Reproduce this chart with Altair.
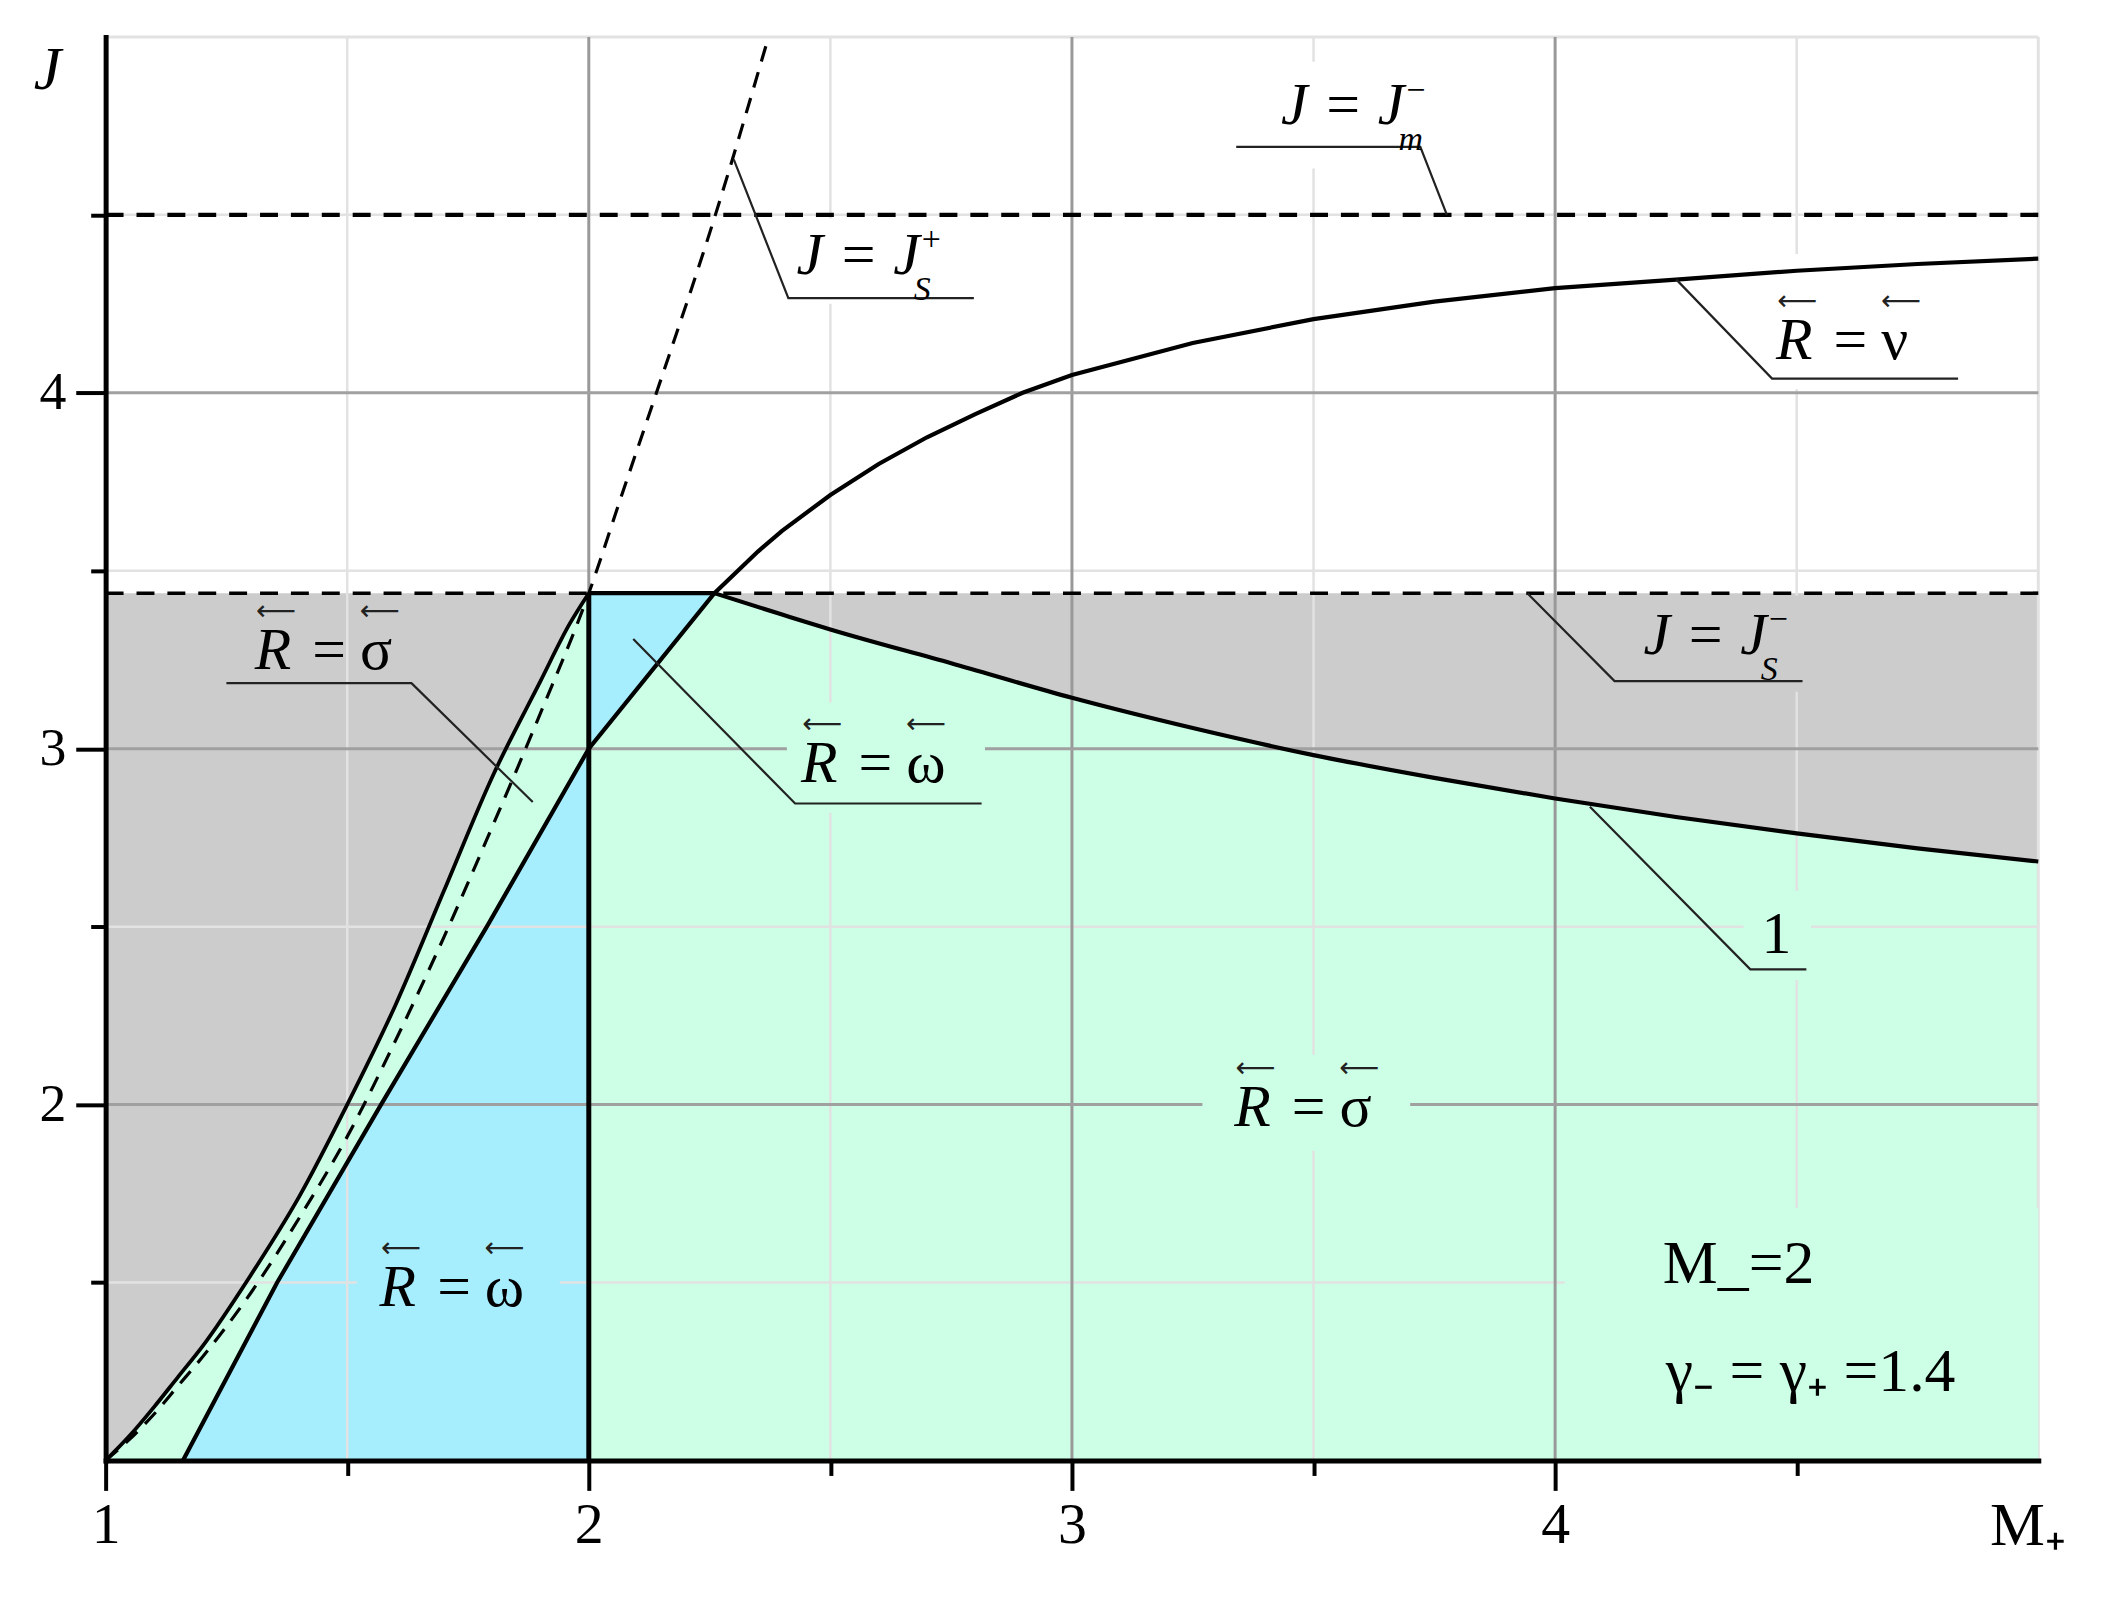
import altair as alt
import pandas as pd

# ---------------- colours / fonts ----------------
GRAY = "#cccccc"
GREEN = "#ccffe6"
BLUE = "#a6eefd"
WHITE = "#ffffff"
SERIF = "Liberation Serif"

# ---------------- values ----------------
J_SM = 3.437          # J = J_S^-  (horizontal dashed)
J_MM = 4.50           # J = J_m^-  (horizontal dashed)
X_SPLIT = 2.0         # vertical boundary M+ = M- = 2
X_KNEE = 2.26         # where the nu-curve meets J = J_S^-

# upper boundary of the narrow strip (x < 2)
STRIP_X = [1.0, 1.05, 1.1, 1.15, 1.2, 1.3, 1.4, 1.5, 1.6, 1.7, 1.8, 1.9, 1.96, 2.0]
STRIP_J = [1.0, 1.07, 1.15, 1.235, 1.32, 1.52, 1.74, 2.0, 2.28, 2.6, 2.92, 3.19, 3.35, 3.437]

# dashed curve J = J_S^+
JSP_X = [1.0, 1.05, 1.1, 1.15, 1.2, 1.3, 1.4, 1.5, 1.6, 1.7, 1.8, 1.9, 2.0, 2.07, 2.14, 2.262, 2.372]
JSP_J = [1.0, 1.06, 1.13, 1.21, 1.29, 1.47, 1.68, 1.91, 2.18, 2.47, 2.78, 3.1, 3.437, 3.72, 4.0, 4.5, 5.0]

# solid line R = omega boundary continuing into R = nu curve
NU_X = [1.16, 1.355, 1.57, 1.789, 2.0, 2.26, 2.35, 2.4, 2.5, 2.6, 2.7, 2.8, 2.898,
        3.0, 3.25, 3.5, 3.75, 4.0, 4.25, 4.5, 4.75, 5.0]
NU_J = [1.0, 1.5, 2.0, 2.5, 3.0, 3.437, 3.554, 3.612, 3.713, 3.80, 3.875, 3.94, 4.0,
        4.05, 4.14, 4.207, 4.256, 4.294, 4.318, 4.343, 4.362, 4.377]

# curve 1
C1_X = [2.26, 2.4, 2.5, 2.75, 3.0, 3.25, 3.5, 3.75, 4.0, 4.25, 4.5, 4.75, 5.0]
C1_J = [3.437, 3.377, 3.335, 3.24, 3.143, 3.058, 2.982, 2.918, 2.860, 2.808, 2.762, 2.720, 2.683]

MINOR = [1.5, 2.5, 3.5, 4.5]
MAJOR = [2, 3, 4]
EDGE = [5]

# label leader lines (underline + pointer)
LEADERS = {
    "Jm": ([3.340, 3.721, 3.776], [4.691, 4.691, 4.500]),
    "JSp": ([2.797, 2.413, 2.300], [4.266, 4.266, 4.656]),
    "nu": ([4.834, 4.449, 4.251], [4.040, 4.040, 4.318]),
    "JSm": ([4.512, 4.123, 3.943], [3.190, 3.190, 3.436]),
    "one": ([4.520, 4.404, 4.072], [2.380, 2.380, 2.837]),
    "sig": ([1.250, 1.633, 1.884], [3.184, 3.184, 2.850]),
    "om": ([2.813, 2.427, 2.092], [2.846, 2.846, 3.308]),
}

# label background boxes (hide grid under the labels)
BOX_X1 = [3.33, 2.40, 4.43, 4.10, 4.39, 2.41, 3.27, 1.52, 4.02]
BOX_X2 = [3.80, 2.80, 4.84, 4.52, 4.53, 2.82, 3.70, 1.94, 5.00]
BOX_J1 = [4.63, 4.25, 4.01, 3.16, 2.35, 2.82, 1.87, 1.38, 1.00]
BOX_J2 = [4.93, 4.49, 4.39, 3.43, 2.60, 3.13, 2.14, 1.64, 1.71]
BOX_FILL = [WHITE, WHITE, WHITE, GRAY, GREEN, GREEN, GREEN, BLUE, GREEN]

# "R = x" labels: anchor at the centre of "=" on the baseline
EQ_X = [1.4625, 2.593, 3.490, 1.721, 4.611]
EQ_J = [3.224, 2.907, 1.941, 1.435, 4.096]
EQ_RHS = ["σ", "ω", "σ", "ω", "ν"]

# "J = J" labels: anchor at right end of "J = J"
JL_X = [3.688, 2.685, 4.438]
JL_J = [4.754, 4.334, 3.266]
JL_SUB = ["m", "S", "S"]
JL_SUP = ["−", "+", "−"]

# ---------------- scales / axes ----------------
SX = alt.Scale(domain=[1, 5], nice=False, zero=False)
SY = alt.Scale(domain=[1, 5], nice=False, zero=False)
TICK = {"condition": {"test": "datum.value % 1 === 0", "value": 30}, "value": 15}
LBL = "datum.value % 1 === 0 ? '' + datum.value : ''"

AX = alt.Axis(values=[1, 1.5, 2, 2.5, 3, 3.5, 4, 4.5], tickSize=TICK, labelExpr=LBL,
              grid=False, zindex=1, domainColor="black", domainWidth=5, domainCap="square",
              tickColor="black", tickWidth=4, labelFont=SERIF, labelFontSize=58,
              labelColor="black", labelPadding=6, labelFlush=False, labelOverlap=False,
              labelBaseline="top",
              title="M₊", titleFont=SERIF, titleFontSize=62, titleFontWeight="normal",
              titleColor="black", titleX=1891, titleY=84, titleAlign="left",
              titleBaseline="alphabetic", titleAngle=0)
AY = alt.Axis(values=[1.5, 2, 2.5, 3, 3.5, 4, 4.5], tickSize=TICK, labelExpr=LBL,
              grid=False, zindex=1, domainColor="black", domainWidth=5, domainCap="square",
              tickColor="black", tickWidth=4, labelFont=SERIF, labelFontSize=54,
              labelColor="black", labelPadding=10, labelFlush=False, labelOverlap=False,
              title="J", titleFont=SERIF, titleFontSize=62, titleFontWeight="normal",
              titleFontStyle="italic", titleColor="black", titleX=-59, titleY=33,
              titleAlign="center", titleBaseline="middle", titleAngle=0)


def ex(f):
    return alt.X(f"{f}:Q", scale=SX, axis=AX)


def ey(f):
    return alt.Y(f"{f}:Q", scale=SY, axis=AY)


layers = []

# ---------------- regions ----------------
gray_df = pd.DataFrame({"x": [1.0], "x2": [5.0], "J": [1.0], "J2": [J_SM]})
layers.append(alt.Chart(gray_df).mark_rect(color=GRAY).encode(
    x=ex("x"), x2="x2:Q", y=ey("J"), y2="J2:Q"))

green_df = pd.DataFrame({"x": STRIP_X + [X_KNEE] + C1_X[1:],
                         "top": STRIP_J + [J_SM] + C1_J[1:]})
green_df["bottom"] = 1.0
layers.append(alt.Chart(green_df).mark_area(color=GREEN, opacity=1).encode(
    x=ex("x"), y=ey("top"), y2="bottom:Q"))

iS = NU_X.index(X_SPLIT)
iK = NU_X.index(X_KNEE)
blueA = pd.DataFrame({"x": NU_X[:iS + 1], "top": NU_J[:iS + 1]})
blueA["bottom"] = 1.0
layers.append(alt.Chart(blueA).mark_area(color=BLUE, opacity=1).encode(
    x=ex("x"), y=ey("top"), y2="bottom:Q"))
blueB = pd.DataFrame({"x": NU_X[iS:iK + 1], "bottom": NU_J[iS:iK + 1]})
blueB["top"] = J_SM
layers.append(alt.Chart(blueB).mark_area(color=BLUE, opacity=1).encode(
    x=ex("x"), y=ey("top"), y2="bottom:Q"))

# ---------------- grid ----------------
def vgrid(vals, color, w):
    d = pd.DataFrame({"x": vals})
    d["J"] = 1.0
    d["J2"] = 5.0
    return alt.Chart(d).mark_rule(color=color, strokeWidth=w).encode(
        x=ex("x"), y=ey("J"), y2="J2:Q")


def hgrid(vals, color, w):
    d = pd.DataFrame({"J": vals})
    d["x"] = 1.0
    d["x2"] = 5.0
    return alt.Chart(d).mark_rule(color=color, strokeWidth=w).encode(
        y=ey("J"), x=ex("x"), x2="x2:Q")


layers += [vgrid(MINOR, "#e2e2e2", 2.5), hgrid(MINOR, "#e2e2e2", 2.5),
           vgrid(EDGE, "#e2e2e2", 3), hgrid(EDGE, "#e2e2e2", 3),
           vgrid(MAJOR, "#999999", 3), hgrid(MAJOR, "#a0a0a0", 3)]

# ---------------- label boxes ----------------
box_df = pd.DataFrame({"x": BOX_X1, "x2": BOX_X2, "J": BOX_J1, "J2": BOX_J2, "fill": BOX_FILL})
layers.append(alt.Chart(box_df).mark_rect().encode(
    x=ex("x"), x2="x2:Q", y=ey("J"), y2="J2:Q", color=alt.Color("fill:N", scale=None)))

# ---------------- curves ----------------
def curve(xs, js, w, dash=None):
    kw = dict(color="black", strokeWidth=w, interpolate="monotone")
    if dash:
        kw["strokeDash"] = dash
    return alt.Chart(pd.DataFrame({"x": xs, "J": js})).mark_line(**kw).encode(
        x=ex("x"), y=ey("J"))


layers.append(curve(STRIP_X, STRIP_J, 3.8))
layers.append(alt.Chart(pd.DataFrame({"x": NU_X, "J": NU_J})).mark_line(
    color="black", strokeWidth=4.2).encode(x=ex("x"), y=ey("J")))
layers.append(curve(C1_X, C1_J, 4.2))
layers.append(curve(JSP_X, JSP_J, 3.2, [16, 11]))

vline = pd.DataFrame({"x": [X_SPLIT], "J": [1.0], "J2": [J_SM]})
layers.append(alt.Chart(vline).mark_rule(color="black", strokeWidth=5).encode(
    x=ex("x"), y=ey("J"), y2="J2:Q"))
topseg = pd.DataFrame({"x": [X_SPLIT], "x2": [X_KNEE], "J": [J_SM]})
layers.append(alt.Chart(topseg).mark_rule(color="black", strokeWidth=4.2).encode(
    x=ex("x"), x2="x2:Q", y=ey("J")))
hd = pd.DataFrame({"x": [1.0, 1.0], "x2": [5.0, 5.0], "J": [J_SM, J_MM], "w": [3.6, 4.4]})
layers.append(alt.Chart(hd).mark_rule(color="black", strokeDash=[18, 13]).encode(
    x=ex("x"), x2="x2:Q", y=ey("J"), strokeWidth=alt.StrokeWidth("w:Q", scale=None)))

# ---------------- leaders ----------------
rows = []
for k, (xs, js) in LEADERS.items():
    for i, (a, b) in enumerate(zip(xs, js)):
        rows.append({"id": k, "o": i, "x": a, "J": b})
lead_df = pd.DataFrame(rows)
layers.append(alt.Chart(lead_df).mark_line(color="#222222", strokeWidth=2.2).encode(
    x=ex("x"), y=ey("J"), detail="id:N", order="o:Q"))

# ---------------- texts ----------------
eq_df = pd.DataFrame({"x": EQ_X, "J": EQ_J, "rhs": EQ_RHS})
base = dict(font=SERIF, fontSize=60, color="black", baseline="alphabetic")
layers.append(alt.Chart(eq_df).mark_text(text="=", align="center", **base).encode(
    x=ex("x"), y=ey("J")))
layers.append(alt.Chart(eq_df).mark_text(text="R", align="right", dx=-38, fontStyle="italic",
                                         **base).encode(x=ex("x"), y=ey("J")))
layers.append(alt.Chart(eq_df).mark_text(align="left", dx=31, **base).encode(
    x=ex("x"), y=ey("J"), text="rhs:N"))
arr = dict(text="⟵", font="DejaVu Sans", fontSize=28, color="#222222", baseline="middle", dy=-57)
layers.append(alt.Chart(eq_df).mark_text(align="right", dx=-33, **arr).encode(
    x=ex("x"), y=ey("J")))
layers.append(alt.Chart(eq_df).mark_text(align="left", dx=31, **arr).encode(
    x=ex("x"), y=ey("J")))

jl_df = pd.DataFrame({"x": JL_X, "J": JL_J, "sub": JL_SUB, "sup": JL_SUP})
layers.append(alt.Chart(jl_df).mark_text(text="J = J", align="right", fontStyle="italic",
                                         **base).encode(x=ex("x"), y=ey("J")))
layers.append(alt.Chart(jl_df).mark_text(align="left", dx=-6, dy=16, font=SERIF, fontSize=34,
                                         fontStyle="italic", color="black").encode(
    x=ex("x"), y=ey("J"), text="sub:N"))
layers.append(alt.Chart(jl_df).mark_text(align="left", dx=2, dy=-34, font=SERIF, fontSize=34,
                                         color="black").encode(
    x=ex("x"), y=ey("J"), text="sup:N"))

one_df = pd.DataFrame({"x": [4.458], "J": [2.427], "t": ["1"]})
layers.append(alt.Chart(one_df).mark_text(align="center", **base).encode(
    x=ex("x"), y=ey("J"), text="t:N"))
note_df = pd.DataFrame({"x": [4.223, 4.229], "J": [1.498, 1.195],
                        "t": ["M_=2", "γ₋ = γ₊ =1.4"]})
layers.append(alt.Chart(note_df).mark_text(align="left", font=SERIF, fontSize=62,
                                           color="black", baseline="alphabetic").encode(
    x=ex("x"), y=ey("J"), text="t:N"))

chart = alt.layer(*layers).properties(
    width=1940, height=1429,
    autosize=alt.AutoSizeParams(type="none"),
    padding={"left": 98, "top": 26, "right": 76, "bottom": 134},
).configure_view(stroke=None)

chart.save("out.html", embed_options={"renderer": "svg", "actions": False})
